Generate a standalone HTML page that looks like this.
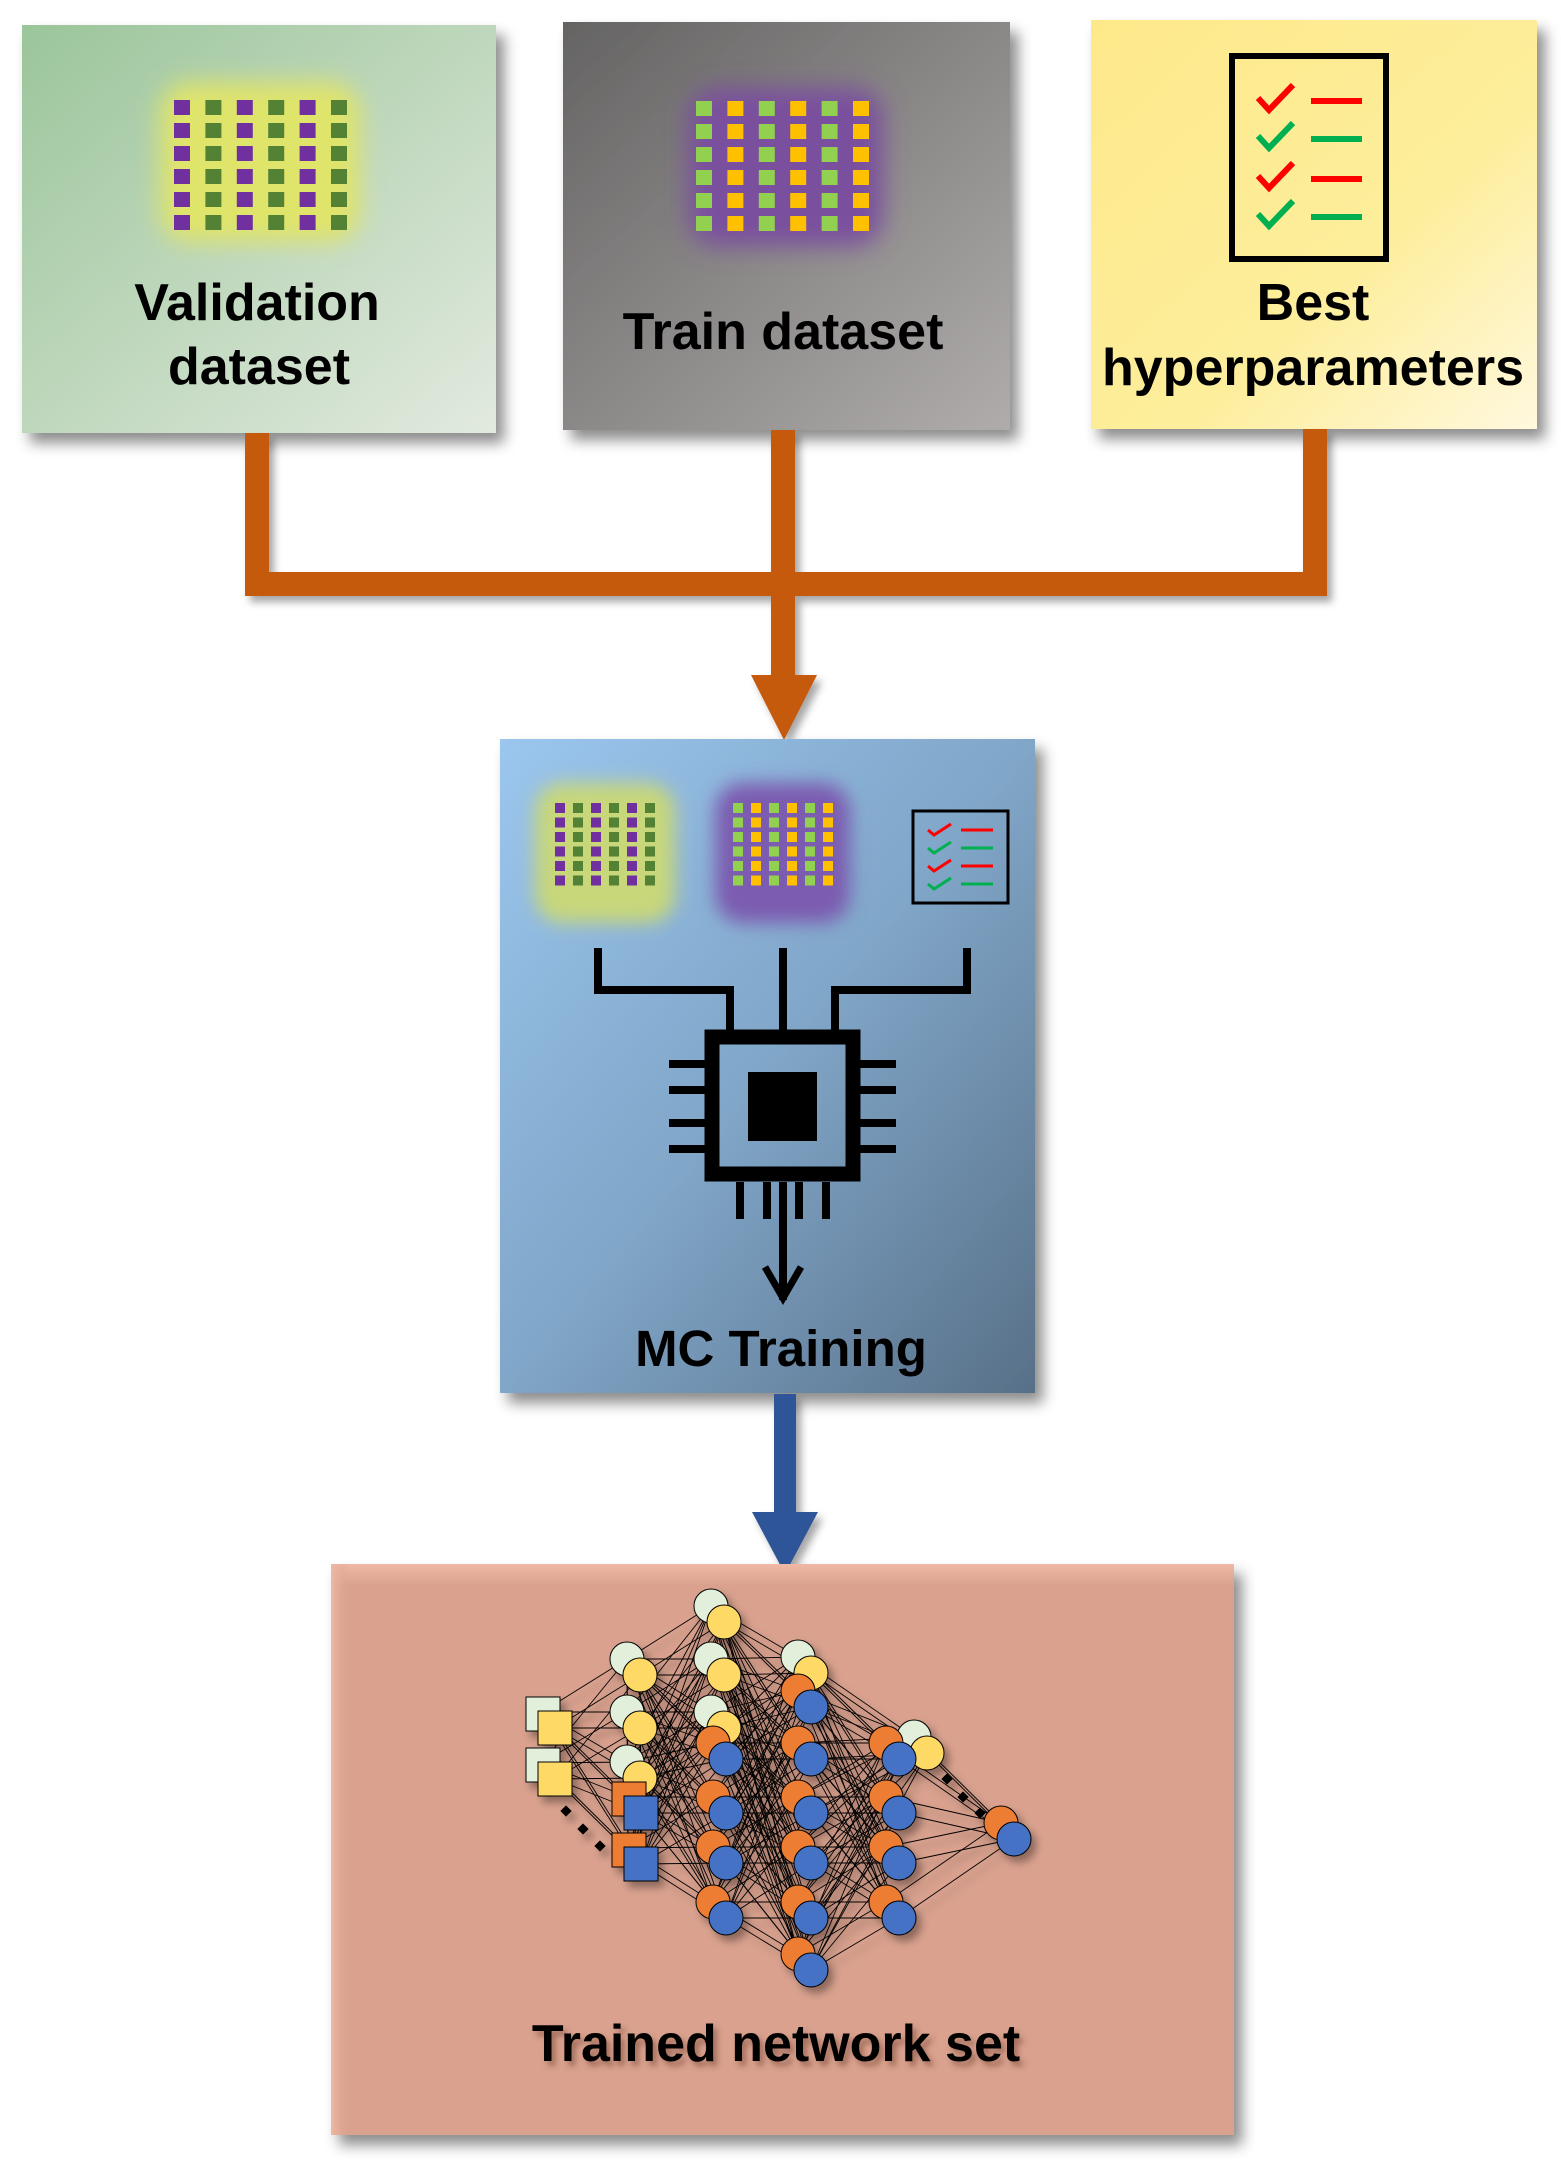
<!DOCTYPE html>
<html><head><meta charset="utf-8"><style>
html,body{margin:0;padding:0;background:#fff;}
body{width:1561px;height:2164px;overflow:hidden;}
svg{display:block;}
text{font-family:"Liberation Sans",Arial,sans-serif;font-weight:bold;fill:#000;}
</style></head><body>
<svg id="s" width="1561" height="2164" viewBox="0 0 1561 2164" xmlns="http://www.w3.org/2000/svg">
<defs>
<linearGradient id="gv" x1="0" y1="0" x2="1" y2="1"><stop offset="0" stop-color="#9bc59a"/><stop offset="1" stop-color="#e2eadf"/></linearGradient>
<linearGradient id="gt" x1="0" y1="0" x2="1" y2="1"><stop offset="0" stop-color="#656363"/><stop offset="1" stop-color="#b0acac"/></linearGradient>
<linearGradient id="gb" x1="0" y1="0" x2="1" y2="1"><stop offset="0" stop-color="#fee98a"/><stop offset="0.6" stop-color="#fdee9c"/><stop offset="1" stop-color="#fff8de"/></linearGradient>
<linearGradient id="gm" x1="0" y1="0" x2="1" y2="1"><stop offset="0" stop-color="#9bc6ee"/><stop offset="0.5" stop-color="#80a6c8"/><stop offset="1" stop-color="#587088"/></linearGradient>
<linearGradient id="gtop" x1="0" y1="0" x2="0" y2="1"><stop offset="0" stop-color="#efb9a6"/><stop offset="1" stop-color="#d9a18e"/></linearGradient>
<linearGradient id="gleft" x1="0" y1="0" x2="1" y2="0"><stop offset="0" stop-color="#efb9a6"/><stop offset="1" stop-color="#d9a18e" stop-opacity="0"/></linearGradient>
<filter id="sh" x="-10%" y="-10%" width="130%" height="130%"><feDropShadow dx="8" dy="10" stdDeviation="7" flood-color="#000" flood-opacity="0.45"/></filter>
<filter id="sh2" x="-10%" y="-10%" width="130%" height="130%"><feDropShadow dx="5" dy="6" stdDeviation="4" flood-color="#000" flood-opacity="0.35"/></filter>
<filter id="blur" x="-50%" y="-50%" width="200%" height="200%"><feGaussianBlur stdDeviation="12"/></filter>
<filter id="blur2" x="-50%" y="-50%" width="200%" height="200%"><feGaussianBlur stdDeviation="9"/></filter>
<filter id="ts" x="-10%" y="-20%" width="130%" height="160%"><feDropShadow dx="4" dy="5" stdDeviation="3" flood-color="#6a3a2a" flood-opacity="0.5"/></filter>
</defs>

<rect x="22" y="25" width="474" height="408" fill="url(#gv)" filter="url(#sh)"/>
<rect x="563" y="22" width="447" height="408" fill="url(#gt)" filter="url(#sh)"/>
<rect x="1091" y="20" width="446" height="409" fill="url(#gb)" filter="url(#sh)"/>

<rect x="160" y="82" width="200" height="160" rx="30" fill="#dfe46a" filter="url(#blur)"/>
<g id="vg"></g>
<rect x="688" y="88" width="195" height="158" rx="30" fill="#7a4f9e" filter="url(#blur)"/>
<g id="tg"></g>

<rect x="1232" y="56" width="154" height="203" fill="none" stroke="#000" stroke-width="6"/>
<g stroke-width="6" fill="none">
<polyline points="1258,98 1269,110 1293,85" stroke="#f00"/><line x1="1311" y1="101" x2="1362" y2="101" stroke="#f00"/>
<polyline points="1258,136 1269,148 1293,123" stroke="#00b050"/><line x1="1311" y1="139" x2="1362" y2="139" stroke="#00b050"/>
<polyline points="1258,176 1269,188 1293,163" stroke="#f00"/><line x1="1311" y1="179" x2="1362" y2="179" stroke="#f00"/>
<polyline points="1258,214 1269,226 1293,201" stroke="#00b050"/><line x1="1311" y1="217" x2="1362" y2="217" stroke="#00b050"/>
</g>

<text x="257" y="320" font-size="52" text-anchor="middle">Validation</text>
<text x="259" y="384" font-size="52" text-anchor="middle">dataset</text>
<text x="783" y="349" font-size="52" text-anchor="middle">Train dataset</text>
<text x="1313" y="320" font-size="52" text-anchor="middle">Best</text>
<text x="1313" y="385" font-size="52" text-anchor="middle">hyperparameters</text>

<g filter="url(#sh2)">
<path d="M257,433 V584 H1315 V429 M783,430 V680" fill="none" stroke="#c55a11" stroke-width="24"/>
<polygon points="751,675 817,675 784,740" fill="#c55a11"/>
</g>

<rect x="500" y="739" width="535" height="654" fill="url(#gm)" filter="url(#sh)"/>
<rect x="535" y="783" width="140" height="140" rx="28" fill="#c8d77a" filter="url(#blur2)"/>
<rect x="715" y="783" width="135" height="140" rx="28" fill="#7b5cb0" filter="url(#blur2)"/>
<g id="mvg"></g><g id="mtg"></g>
<rect x="913" y="811" width="95" height="92" fill="none" stroke="#000" stroke-width="3"/>
<g stroke-width="3" fill="none">
<polyline points="928,830 934,835 951,824" stroke="#f00"/><line x1="961" y1="830" x2="993" y2="830" stroke="#f00"/>
<polyline points="928,848 934,853 951,842" stroke="#00b050"/><line x1="961" y1="848" x2="993" y2="848" stroke="#00b050"/>
<polyline points="928,866 934,871 951,860" stroke="#f00"/><line x1="961" y1="866" x2="993" y2="866" stroke="#f00"/>
<polyline points="928,884 934,889 951,878" stroke="#00b050"/><line x1="961" y1="884" x2="993" y2="884" stroke="#00b050"/>
</g>
<g fill="none" stroke="#000" stroke-width="8">
<path d="M598,948 V990 H730 V1032"/>
<path d="M783,948 V1032"/>
<path d="M967,948 V990 H835 V1032"/>
<rect x="712" y="1037" width="141" height="137" stroke-width="15"/>
<path d="M669,1064 H705 M669,1090 H705 M669,1123 H705 M669,1149 H705"/>
<path d="M860,1064 H896 M860,1090 H896 M860,1123 H896 M860,1149 H896"/>
<path d="M740,1182 V1219 M767,1182 V1219 M799,1182 V1219 M826,1182 V1219"/>
<path d="M783,1182 V1300"/>
<polyline points="765,1267 783,1298 801,1267" stroke-width="7"/>
</g>
<rect x="748" y="1072" width="69" height="69" fill="#000"/>
<text x="781" y="1366" font-size="51" text-anchor="middle">MC Training</text>

<g filter="url(#sh2)">
<rect x="774" y="1394" width="22" height="120" fill="#2f5597"/>
<polygon points="752,1512 818,1512 785,1574" fill="#2f5597"/>
</g>

<rect x="331" y="1564" width="903" height="571" fill="#d9a18e" filter="url(#sh)"/>
<rect x="331" y="1564" width="903" height="22" fill="url(#gtop)"/>
<rect x="331" y="1564" width="20" height="571" fill="url(#gleft)"/>
<g id="net" filter="url(#sh2)"></g>
<text x="776" y="2061" font-size="52" text-anchor="middle" filter="url(#ts)">Trained network set</text>
</svg>
<script>
var NS="http://www.w3.org/2000/svg";
function el(p,t,a){var e=document.createElementNS(NS,t);for(var k in a)e.setAttribute(k,a[k]);p.appendChild(e);return e;}
function grid(id,x0,y0,px,py,w,h,c1,c2){var g=document.getElementById(id);for(var r=0;r<6;r++)for(var c=0;c<6;c++)el(g,"rect",{x:x0+c*px,y:y0+r*py,width:w,height:h,fill:c%2?c2:c1});}
grid("vg",174,100,31.4,23,16,15,"#7030a0","#548235");
grid("tg",696,101,31.4,23,16,15,"#92d050","#ffc000");
grid("mvg",555,803,18,14.5,10,10,"#7030a0","#548235");
grid("mtg",733,803,18,14.5,10,10,"#92d050","#ffc000");
var n=document.getElementById("net");
var L=[[[555,1728],[555,1779],[641,1813],[641,1864]],
[[640,1675],[640,1728],[640,1778],[641,1813],[641,1864]],
[[724,1622],[724,1675],[724,1728],[726,1759],[726,1813],[726,1863],[726,1918]],
[[811,1673],[811,1707],[811,1759],[811,1813],[811,1863],[811,1918],[811,1970]],
[[899,1759],[899,1813],[899,1863],[899,1918],[927,1753]],
[[1014,1839]]];
var lg=el(n,"g",{stroke:"#000","stroke-width":"0.9",fill:"none"});
for(var i=0;i<L.length-1;i++)for(var a=0;a<L[i].length;a++)for(var b=0;b<L[i+1].length;b++){el(lg,"line",{x1:L[i][a][0],y1:L[i][a][1],x2:L[i+1][b][0],y2:L[i+1][b][1]});el(lg,"line",{x1:L[i][a][0]-13,y1:L[i][a][1]-16,x2:L[i+1][b][0]-13,y2:L[i+1][b][1]-16});}
function circ(x,y,back,front){el(n,"circle",{cx:x-13,cy:y-16,r:17,fill:back,stroke:"#000","stroke-width":"1"});el(n,"circle",{cx:x,cy:y,r:17,fill:front,stroke:"#000","stroke-width":"1"});}
function sq(x,y,back,front){el(n,"rect",{x:x-29,y:y-31,width:34,height:34,fill:back,stroke:"#000","stroke-width":"1"});el(n,"rect",{x:x-17,y:y-17,width:34,height:34,fill:front,stroke:"#000","stroke-width":"1"});}
var LC="#e2efda",Y="#ffd966",O="#ed7d31",B="#4472c4";
[[640,1675],[640,1728],[640,1778]].forEach(function(p){circ(p[0],p[1],LC,Y);});
[[724,1622],[724,1675],[724,1728]].forEach(function(p){circ(p[0],p[1],LC,Y);});
[[726,1759],[726,1813],[726,1863],[726,1918]].forEach(function(p){circ(p[0],p[1],O,B);});
circ(811,1673,LC,Y);
[[811,1707],[811,1759],[811,1813],[811,1863],[811,1918],[811,1970]].forEach(function(p){circ(p[0],p[1],O,B);});
circ(927,1753,LC,Y);
[[899,1759],[899,1813],[899,1863],[899,1918]].forEach(function(p){circ(p[0],p[1],O,B);});
circ(1014,1839,O,B);
sq(555,1728,LC,Y);sq(555,1779,LC,Y);sq(641,1813,O,B);sq(641,1864,O,B);
[[566,1811],[583,1829],[600,1846],[947,1779],[963,1797],[980,1813]].forEach(function(p){el(n,"rect",{x:p[0]-4,y:p[1]-4,width:8,height:8,fill:"#000",transform:"rotate(45 "+p[0]+" "+p[1]+")"});});
</script>
</body></html>
